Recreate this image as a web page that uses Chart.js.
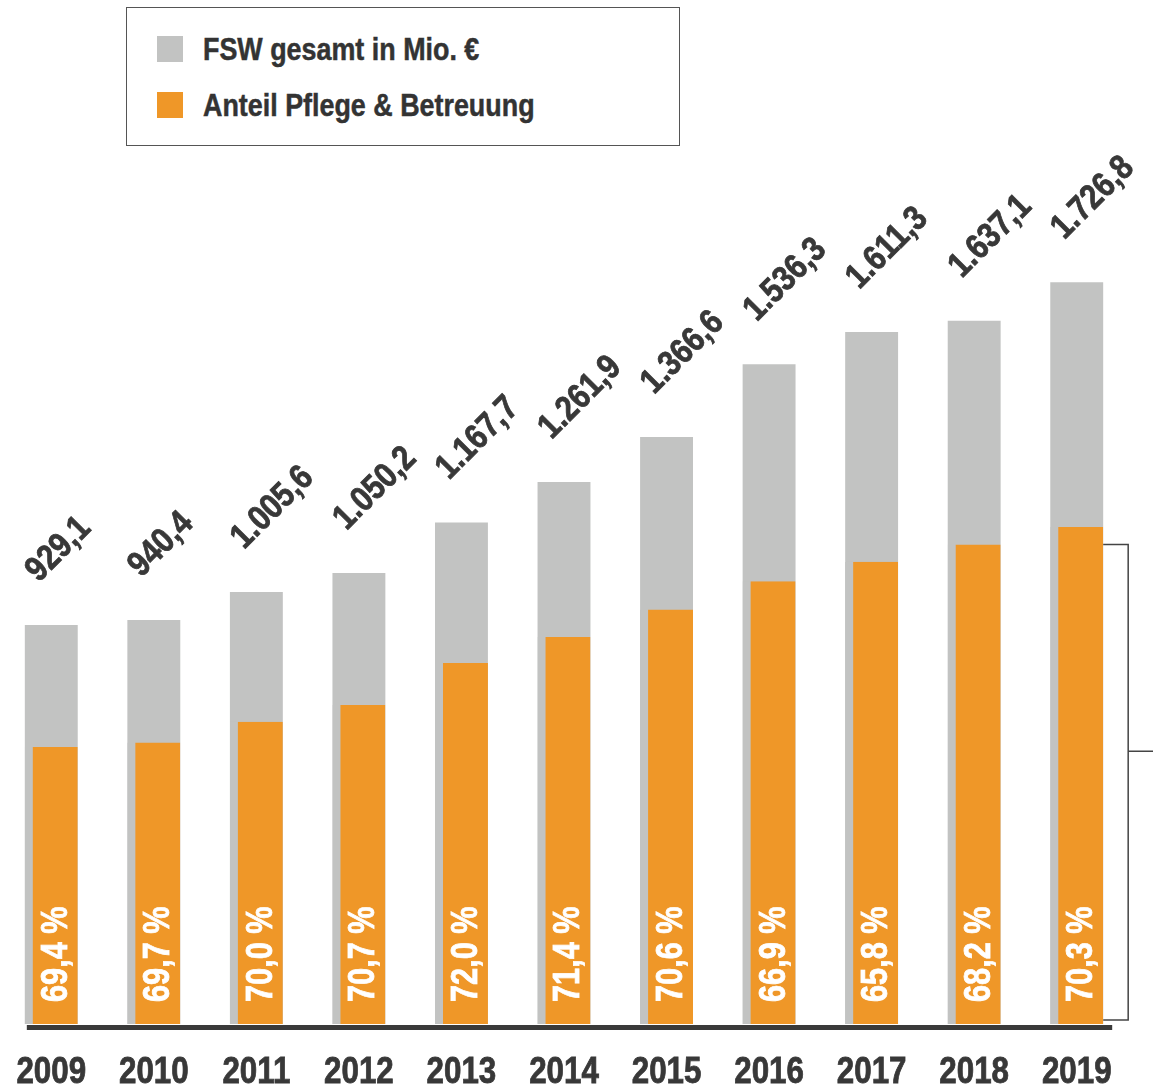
<!DOCTYPE html>
<html>
<head>
<meta charset="utf-8">
<script src="https://cdn.jsdelivr.net/npm/chart.js@4.4.0/dist/chart.umd.min.js"></script>
<style>
	body { margin: 0; background: #fff; }
	#wrap { position: relative; width: 1153px; height: 1087px; }
	#legend {
		position: absolute; left: 126px; top: 7px; width: 552px; height: 137px;
		border: 1px solid #555; background: #fff;
		font-family: 'Liberation Sans', Arial, sans-serif;
		font-weight: bold; font-size: 32px; color: #333;
	}
	.item { position: absolute; left: 30px; height: 26px; display: flex; align-items: center; white-space: nowrap; }
	.sw { width: 26px; height: 26px; margin-right: 20px; flex: none; }
	.txt { display: inline-block; transform: scaleX(0.84); transform-origin: left center; -webkit-text-stroke: 0.5px #333; }
</style>
</head>
<body>
<div id="wrap">
	<canvas id="chart" width="1153" height="1087"></canvas>
	<div id="legend">
		<div class="item" style="top:28px"><span class="sw" style="background:#c2c3c2"></span><span class="txt">FSW gesamt in Mio. €</span></div>
		<div class="item" style="top:84px"><span class="sw" style="background:#ef9728"></span><span class="txt">Anteil Pflege &amp; Betreuung</span></div>
	</div>
</div>
<script>
const years = ['2009', '2010', '2011', '2012', '2013', '2014', '2015', '2016', '2017', '2018', '2019']
// FSW gesamt in Mio. €
const totals = [929.1, 940.4, 1005.6, 1050.2, 1167.7, 1261.9, 1366.6, 1536.3, 1611.3, 1637.1, 1726.8]
// Anteil Pflege & Betreuung in %
const shares = [69.4, 69.7, 70.0, 70.7, 72.0, 71.4, 70.6, 66.9, 65.8, 68.2, 70.3]
// Anteil Pflege & Betreuung in Mio. € (Balkenhöhe)
const careValues = [644.8, 655.5, 703.9, 742.5, 840.7, 901.0, 964.8, 1031, 1076, 1116.5, 1157]

const FONT = "'Liberation Sans', Arial, sans-serif"
const GREY = '#c2c3c2'
const ORANGE = '#ef9728'
const DARK = '#383838'

function fmtNum(v) {
	const parts = v.toFixed(1).split('.')
	return parts[0].replace(/\B(?=(\d{3})+(?!\d))/g, '.') + ',' + parts[1]
}

// schmale, fette Schrift nachbilden: Text horizontal stauchen und nachziehen
function narrowText(ctx, text, x, y, angle, squeeze) {
	ctx.save()
	ctx.translate(x, y)
	ctx.rotate(angle)
	ctx.scale(squeeze, 1)
	ctx.fillText(text, 0, 0)
	ctx.strokeText(text, 0, 0)
	ctx.restore()
}

const labelPlugin = {
	id: 'labels',
	afterDatasetsDraw(chart) {
		const ctx = chart.ctx
		const area = chart.chartArea
		const greyBars = chart.getDatasetMeta(0).data
		const careBars = chart.getDatasetMeta(1).data
		const xScale = chart.scales.x

		// Gesamtwerte schräg über den Balken
		ctx.save()
		ctx.fillStyle = DARK
		ctx.strokeStyle = DARK
		ctx.lineWidth = 0.8
		ctx.font = 'bold 35px ' + FONT
		ctx.textAlign = 'left'
		ctx.textBaseline = 'alphabetic'
		greyBars.forEach((bar, i) => {
			narrowText(ctx, fmtNum(totals[i]), bar.x - bar.width / 2 + 14, bar.y - 42, -Math.PI / 4, 0.86)
		})
		ctx.restore()

		// Prozentwerte senkrecht in den orangen Balken
		ctx.save()
		ctx.fillStyle = '#fff'
		ctx.strokeStyle = '#fff'
		ctx.lineWidth = 0.8
		ctx.font = 'bold 37px ' + FONT
		ctx.textAlign = 'left'
		ctx.textBaseline = 'alphabetic'
		careBars.forEach((bar, i) => {
			const txt = shares[i].toFixed(1).replace('.', ',') + ' %'
			narrowText(ctx, txt, bar.x + bar.width / 2 - 11, area.bottom - 22, -Math.PI / 2, 0.83)
		})
		ctx.restore()

		// Jahreszahlen
		ctx.save()
		ctx.fillStyle = DARK
		ctx.strokeStyle = DARK
		ctx.lineWidth = 0.8
		ctx.font = 'bold 36px ' + FONT
		ctx.textAlign = 'center'
		ctx.textBaseline = 'alphabetic'
		years.forEach((y, i) => {
			narrowText(ctx, y, xScale.getPixelForValue(i), area.bottom + 59, 0, 0.87)
		})
		ctx.restore()

		// Grundlinie
		const first = greyBars[0]
		const last = greyBars[greyBars.length - 1]
		ctx.save()
		ctx.strokeStyle = '#3a3a3a'
		ctx.lineWidth = 5
		ctx.beginPath()
		ctx.moveTo(first.x - first.width / 2 + 2, area.bottom + 3.5)
		ctx.lineTo(last.x + last.width / 2 + 9, area.bottom + 3.5)
		ctx.stroke()

		// Klammer rechts
		const xr = last.x + last.width / 2
		const xb = xr + 25
		const top = chart.scales.y.getPixelForValue(careValues[9])
		const bot = area.bottom - 4
		const mid = top + (bot - top) * 0.435
		ctx.strokeStyle = '#444'
		ctx.lineWidth = 1.5
		ctx.beginPath()
		ctx.moveTo(xr, top)
		ctx.lineTo(xb, top)
		ctx.lineTo(xb, bot)
		ctx.lineTo(xr, bot)
		ctx.moveTo(xb, mid)
		ctx.lineTo(chart.width, mid)
		ctx.stroke()
		ctx.restore()
	},
}

const ctx = document.getElementById('chart').getContext('2d')
new Chart(ctx, {
	type: 'bar',
	data: {
		labels: years,
		datasets: [
			{
				label: 'FSW gesamt in Mio. €',
				data: totals,
				backgroundColor: GREY,
				grouped: false,
				order: 2,
				barPercentage: 0.516,
				categoryPercentage: 1,
			},
			{
				label: 'Anteil Pflege & Betreuung',
				data: careValues,
				backgroundColor: ORANGE,
				borderColor: GREY,
				borderWidth: { left: 8, top: 0, right: 0, bottom: 0 },
				borderSkipped: false,
				grouped: false,
				order: 1,
				barPercentage: 0.516,
				categoryPercentage: 1,
			},
		],
	},
	options: {
		responsive: false,
		animation: false,
		layout: {
			padding: { top: 165, right: 25, left: 0, bottom: 63 },
		},
		scales: {
			x: {
				display: false,
			},
			y: {
				display: false,
				min: 0,
				max: 2000,
			},
		},
		plugins: {
			legend: { display: false },
			tooltip: { enabled: false },
		},
	},
	plugins: [labelPlugin],
})
</script>
</body>
</html>
